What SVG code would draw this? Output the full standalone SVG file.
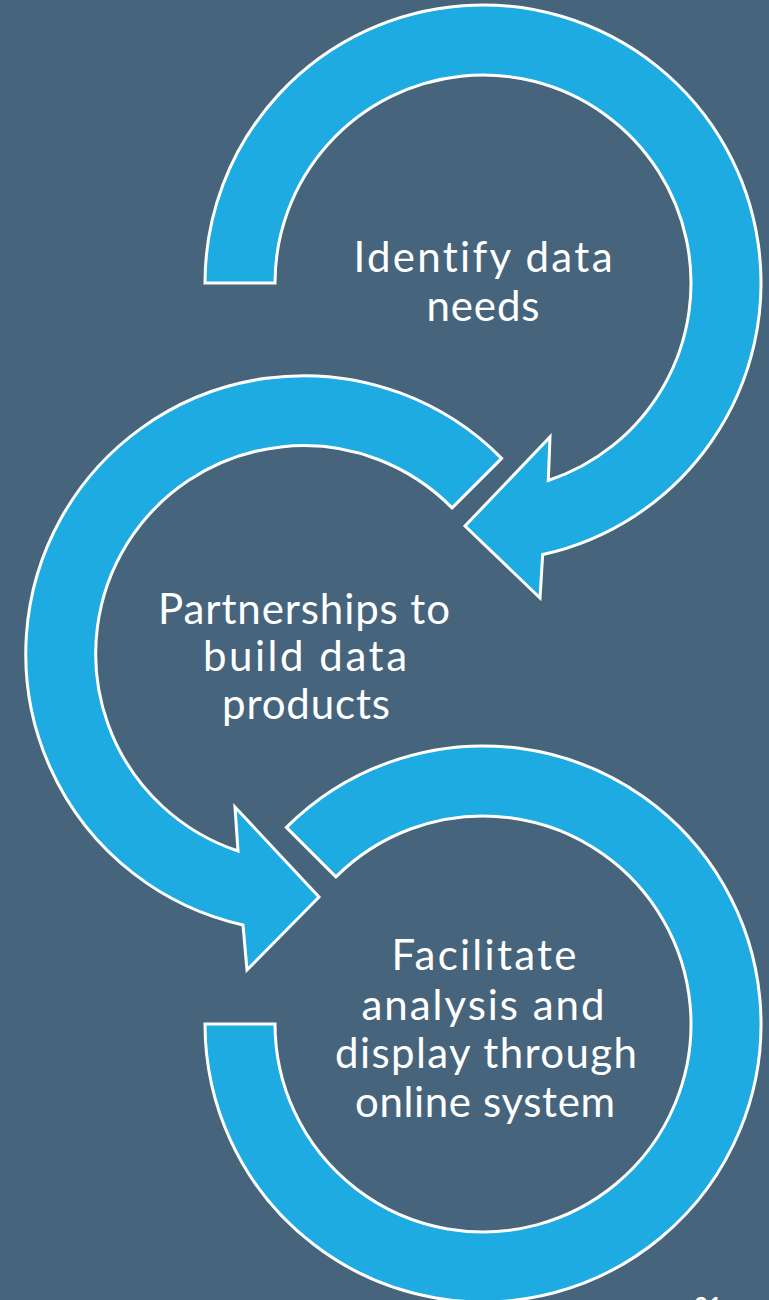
<svg xmlns="http://www.w3.org/2000/svg" width="769" height="1300" viewBox="0 0 769 1300">
<style>
.arrow{fill:#1DABE2;stroke:#FFFFFF;stroke-width:3;stroke-linejoin:miter}
.lbl{fill:#FFFFFF;font-family:Lato,"Open Sans","DejaVu Sans",sans-serif;font-size:42px;text-anchor:middle;font-variant-ligatures:none}
.pg{fill:#FFFFFF;font-family:Lato,"Liberation Sans",sans-serif;font-size:24px;font-weight:bold;text-anchor:middle}
</style>
<rect x="0" y="0" width="769" height="1300" fill="#46657D"/>
<g id="connectors"/>
<g id="node-identify">
<path class="arrow" d="M205,283 A278,278 0 1 1 542.7,554.5 L540,598 L465,526 L550,437 L548.3,480.5 A208,208 0 1 0 275,283 Z"/>
<text class="lbl" x="483" y="272" textLength="259">Identify data</text>
<text class="lbl" x="483" y="321" textLength="113">needs</text>
</g>
<g id="node-partnerships">
<path class="arrow" d="M501.6,458.4 A278,278 0 1 0 243,925 L247,970 L319,897 L235,807 L238,851 A208,208 0 1 1 452.1,507.9 Z"/>
<text class="lbl" x="304" y="624" textLength="292">Partnerships to</text>
<text class="lbl" x="305" y="671" textLength="204">build data</text>
<text class="lbl" x="306" y="719" textLength="168">products</text>
</g>
<g id="node-facilitate">
<path class="arrow" d="M286.4,827.4 A278,278 0 1 1 205,1024 L275,1024 A208,208 0 1 0 335.9,876.9 Z"/>
<text class="lbl" x="484" y="970" textLength="185">Facilitate</text>
<text class="lbl" x="483" y="1020" textLength="243">analysis and</text>
<text class="lbl" x="486" y="1068" textLength="302">display through</text>
<text class="lbl" x="485" y="1117" textLength="260">online system</text>
</g>
<text class="pg" x="708" y="1315">21</text>
</svg>
